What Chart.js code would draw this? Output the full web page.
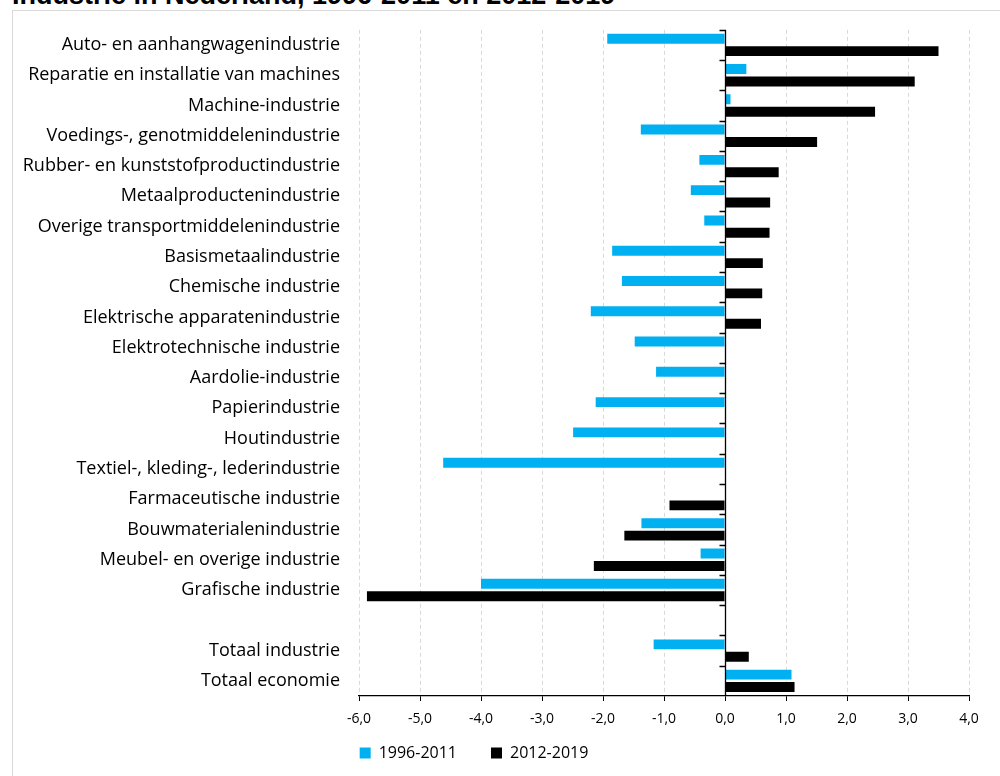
<!DOCTYPE html>
<html>
<head>
<meta charset="utf-8">
<script src="https://cdn.jsdelivr.net/npm/chart.js@4"></script>
<style>
  html, body { margin: 0; padding: 0; background: #fff; overflow: hidden; }
  body { width: 1000px; height: 776px; position: relative; }
  #title {
    position: absolute; left: 12px; top: -20px; white-space: nowrap;
    font: bold 27px "Liberation Sans", Arial, sans-serif; color: #000;
  }
  #frame {
    position: absolute; left: 12px; top: 10px; width: 1020px; height: 800px;
    border: 1px solid #d9d9d9;
  }
  #wrap { position: absolute; left: -36px; top: 0; width: 1036px; height: 776px; }
</style>
</head>
<body>
<div id="title">Industrie in Nederland, 1996-2011 en 2012-2019</div>
<div id="frame"></div>
<div id="wrap"><canvas id="chart"></canvas></div>
<script>
(function () {
  'use strict';

  const categories = [
    'Auto- en aanhangwagenindustrie',
    'Reparatie en installatie van machines',
    'Machine-industrie',
    'Voedings-, genotmiddelenindustrie',
    'Rubber- en kunststofproductindustrie',
    'Metaalproductenindustrie',
    'Overige transportmiddelenindustrie',
    'Basismetaalindustrie',
    'Chemische industrie',
    'Elektrische apparatenindustrie',
    'Elektrotechnische industrie',
    'Aardolie-industrie',
    'Papierindustrie',
    'Houtindustrie',
    'Textiel-, kleding-, lederindustrie',
    'Farmaceutische industrie',
    'Bouwmaterialenindustrie',
    'Meubel- en overige industrie',
    'Grafische industrie',
    '',
    'Totaal industrie',
    'Totaal economie'
  ];

  const period1 = [-1.93, 0.35, 0.09, -1.38, -0.42, -0.56, -0.34, -1.85, -1.69, -2.20,
    -1.48, -1.13, -2.12, -2.49, -4.62, 0, -1.37, -0.40, -4.00, null, -1.17, 1.09];
  const period2 = [3.50, 3.11, 2.46, 1.51, 0.88, 0.74, 0.73, 0.62, 0.61, 0.59,
    0, 0, 0, 0, 0, -0.91, -1.65, -2.15, -5.87, null, 0.39, 1.14];

  const xMin = -6;
  const xMax = 4;

  const labelFont = "'Open Sans', 'Noto Sans', sans-serif";

  // vertical axis line with tick marks at x = 0
  const zeroAxis = {
    id: 'zeroAxis',
    afterDatasetsDraw: function (chart) {
      const ctx = chart.ctx;
      const area = chart.chartArea;
      const x = chart.scales.x;
      const y = chart.scales.y;
      const x0 = Math.round(x.getPixelForValue(0)) + 0.5;
      const n = y.ticks.length;
      ctx.save();
      ctx.strokeStyle = '#000';
      ctx.lineWidth = 1.3;
      ctx.beginPath();
      ctx.moveTo(x0, area.top);
      ctx.lineTo(x0, area.bottom);
      for (let i = 0; i < n; i++) {
        const py = i === 0 ? area.top : (y.getPixelForTick(i - 1) + y.getPixelForTick(i)) / 2;
        const yy = Math.round(py) + 0.5;
        ctx.moveTo(x0 - 6, yy);
        ctx.lineTo(x0, yy);
      }
      ctx.stroke();
      ctx.restore();
    }
  };

  // legend uses a wide item gap (padding), pull its box up so the row sits under the axis labels
  const legendLift = {
    id: 'legendLift',
    afterLayout: function (chart) {
      const lg = chart.legend;
      if (!lg) return;
      lg.top = 711;
      lg.bottom = 776;
      lg.height = 65;
    }
  };

  new Chart(document.getElementById('chart'), {
    type: 'bar',
    data: {
      labels: categories,
      datasets: [{
        label: '1996-2011',
        data: period1,
        backgroundColor: '#00b0f0',
        borderWidth: 0,
        categoryPercentage: 0.82,
        barPercentage: 0.8
      }, {
        label: '2012-2019',
        data: period2,
        backgroundColor: '#000000',
        borderWidth: 0,
        categoryPercentage: 0.82,
        barPercentage: 0.8
      }]
    },
    options: {
      indexAxis: 'y',
      responsive: true,
      maintainAspectRatio: false,
      animation: false,
      layout: { padding: { left: 15, top: 29, right: 31, bottom: 4 } },
      scales: {
        x: {
          min: xMin,
          max: xMax,
          afterFit: function (s) { s.height = 39; },
          ticks: {
            stepSize: 1,
            padding: 10,
            color: '#000',
            font: { size: 14, family: labelFont },
            callback: function (v) { return v.toFixed(1).replace('.', ','); }
          },
          grid: {
            color: '#d9d9d9',
            lineWidth: 1,
            tickLength: 5,
            tickColor: '#000'
          },
          border: { display: true, color: '#000', width: 1.3, dash: [4, 3] }
        },
        y: {
          afterFit: function (s) { s.width = 380; },
          ticks: {
            padding: 19,
            color: '#000',
            autoSkip: false,
            font: { size: 18, family: labelFont }
          },
          grid: { display: false, drawTicks: false },
          border: { display: false }
        }
      },
      plugins: {
        legend: {
          position: 'bottom',
          maxHeight: 37,
          labels: {
            color: '#000',
            boxWidth: 11,
            boxHeight: 11,
            padding: 34,
            font: { size: 16, family: labelFont }
          }
        },
        tooltip: { enabled: false }
      }
    },
    plugins: [zeroAxis, legendLift]
  });
})();
</script>
</body>
</html>
